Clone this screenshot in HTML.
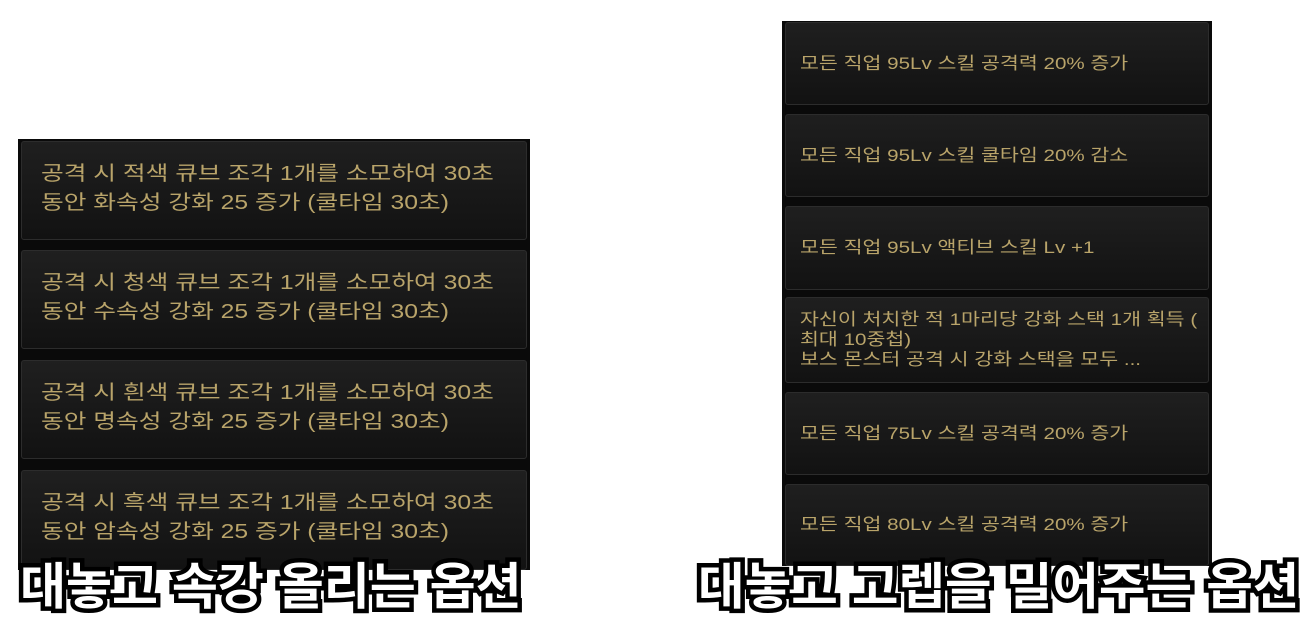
<!DOCTYPE html>
<html><head><meta charset="utf-8"><style>
body{margin:0;width:1315px;height:632px;background:#fff;position:relative;overflow:hidden;font-family:"Liberation Sans","Noto Sans CJK KR","NanumGothic",sans-serif}
.panel{position:absolute;background:#0a0a0a}
.b{position:absolute;left:3px;right:3px;background:linear-gradient(#1f1f1f,#121212);border:1px solid #2c2c2c;border-radius:3px;color:#b9a46a;box-sizing:border-box;white-space:nowrap}
.b span{display:inline-block;transform-origin:0 50%}
.L .b{font-size:20px;line-height:29px;padding:18px 0 0 19px}
.L .b span{transform:scaleX(1.235)}
.R .b{font-size:17px;line-height:20px;padding:0 0 0 14px;display:flex;align-items:center}
.R .b span{transform:scaleX(1.21)}
.cap{position:absolute;font-weight:bold;color:#fff;font-size:50px;-webkit-text-stroke:9px #000;paint-order:stroke fill;white-space:nowrap;line-height:1;transform-origin:0 0}
</style></head><body>
<div class="panel L" style="left:18px;top:139px;width:512px;height:431px">
<div class="b" style="top:2px;height:99px"><span>공격 시 적색 큐브 조각 1개를 소모하여 30초<br>동안 화속성 강화 25 증가 (쿨타임 30초)</span></div>
<div class="b" style="top:111px;height:99px"><span>공격 시 청색 큐브 조각 1개를 소모하여 30초<br>동안 수속성 강화 25 증가 (쿨타임 30초)</span></div>
<div class="b" style="top:221px;height:99px"><span>공격 시 흰색 큐브 조각 1개를 소모하여 30초<br>동안 명속성 강화 25 증가 (쿨타임 30초)</span></div>
<div class="b" style="top:331px;height:100px"><span>공격 시 흑색 큐브 조각 1개를 소모하여 30초<br>동안 암속성 강화 25 증가 (쿨타임 30초)</span></div>
</div>
<div class="panel R" style="left:782px;top:21px;width:430px;height:545px">
<div class="b" style="top:1px;height:83px"><span>모든 직업 95Lv 스킬 공격력 20% 증가</span></div>
<div class="b" style="top:93px;height:83px"><span>모든 직업 95Lv 스킬 쿨타임 20% 감소</span></div>
<div class="b" style="top:185px;height:84px"><span>모든 직업 95Lv 액티브 스킬 Lv +1</span></div>
<div class="b" style="top:276px;height:86px"><span>자신이 처치한 적 1마리당 강화 스택 1개 획득 (<br>최대 10중첩)<br>보스 몬스터 공격 시 강화 스택을 모두 ...</span></div>
<div class="b" style="top:371px;height:83px"><span>모든 직업 75Lv 스킬 공격력 20% 증가</span></div>
<div class="b" style="top:463px;height:82px"><span>모든 직업 80Lv 스킬 공격력 20% 증가</span></div>
</div>
<div class="cap" style="left:20px;top:562px">대놓고 속강 올리는 옵션</div>
<div class="cap" style="left:698px;top:562px;transform:scaleX(1.013)">대놓고 고렙을 밀어주는 옵션</div>
</body></html>
